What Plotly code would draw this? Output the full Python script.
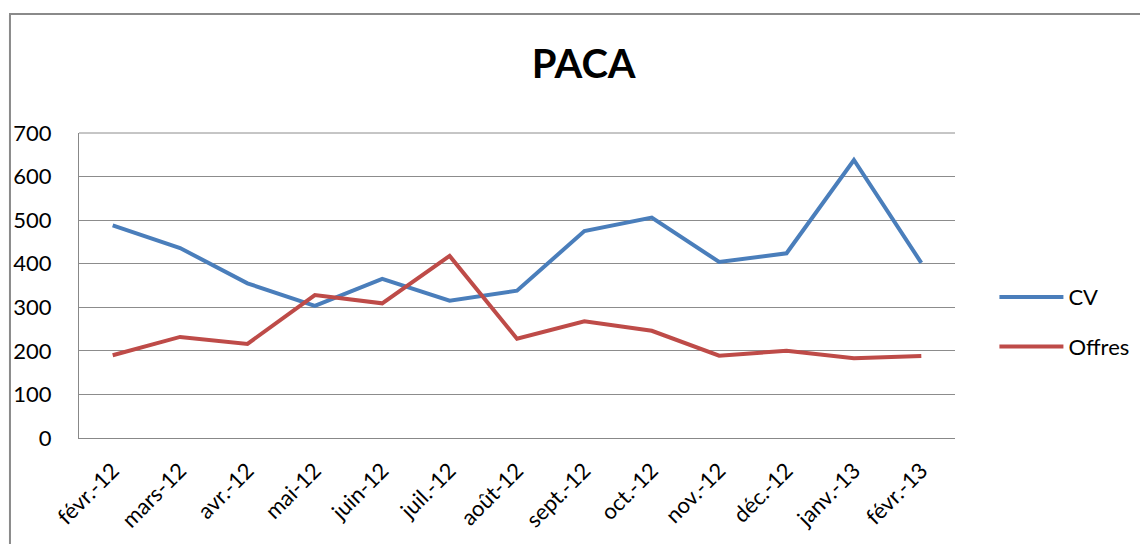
import plotly.graph_objects as go

# -----------------------
# Data
# -----------------------

mois = ["févr.-12", "mars-12", "avr.-12", "mai-12", "juin-12", "juil.-12",
        "août-12", "sept.-12", "oct.-12", "nov.-12", "déc.-12", "janv.-13", "févr.-13"]

cv = [488, 436, 355, 303, 365, 315, 338, 475, 506, 404, 424, 638, 402]

offres = [190, 232, 216, 328, 309, 418, 228, 268, 246, 189, 200, 183, 188]

y_ticks = [0, 100, 200, 300, 400, 500, 600, 700]

# -----------------------
# Chart
# -----------------------

fig = go.Figure()

fig.add_trace(go.Scatter(
    x=mois, y=cv, name="CV", mode="lines",
    line=dict(color="#4A7EBB", width=4),
    legendgroup="cv"
))

fig.add_trace(go.Scatter(
    x=mois, y=offres, name="Offres", mode="lines",
    line=dict(color="#BE4B48", width=4),
    legendgroup="offres"
))

# page body has an 8px margin, so the figure is 8px smaller on each side
fig.update_layout(
    width=1140, height=536,
    margin=dict(l=71, r=193, t=125, b=106),
    paper_bgcolor="white", plot_bgcolor="white",
    font=dict(family="Lato, 'Open Sans', sans-serif", size=22, color="#000000"),
    title=dict(text="<b>PACA</b>", x=0.505, xanchor="center", y=0.895, yanchor="middle",
               font=dict(size=40, color="#000000")),
    showlegend=True,
    legend=dict(x=1.045, xanchor="left", y=0.38, yanchor="middle",
                itemwidth=64, tracegroupgap=18, font=dict(size=22),
                bgcolor="rgba(0,0,0,0)"),
    xaxis=dict(type="category", tickangle=-45, showgrid=False, automargin=False,
               showline=True, linecolor="#888888", linewidth=1,
               ticks="", tickfont=dict(size=22), range=[-0.5, 12.5],
               ticklabelstandoff=10),
    yaxis=dict(range=[0, 700], tickvals=y_ticks, showgrid=True, automargin=False,
               gridcolor="#8c8c8c", gridwidth=1, zeroline=False,
               showline=True, linecolor="#888888", linewidth=1,
               ticks="", ticklabelstandoff=22, tickfont=dict(size=22)),
    shapes=[
        # outer chart border (cropped Excel chart frame)
        dict(type="rect", xref="paper", yref="paper",
             x0=-0.0788, x1=1.3, y0=-0.5, y1=1.390,
             line=dict(color="#8a8a8a", width=2), fillcolor="rgba(0,0,0,0)", layer="below"),
        # top gridline closing the plot area
        dict(type="line", xref="paper", yref="paper", x0=0, x1=1, y0=1, y1=1,
             line=dict(color="#8c8c8c", width=1)),
    ],
)

fig.write_html("out.html")
